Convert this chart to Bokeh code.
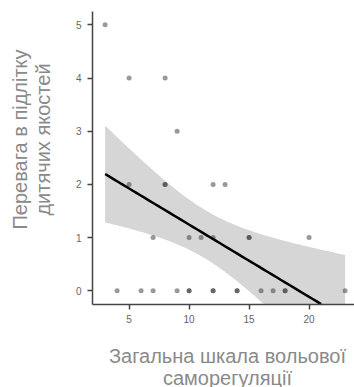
import numpy as np
from bokeh.plotting import figure
from bokeh.models import Range1d, Label, FixedTicker, ColumnDataSource
from bokeh.embed import file_html
from bokeh.resources import INLINE

# Data
self_regulation = [3, 5, 8, 9, 5, 8, 8, 12, 13, 7, 10, 11, 12, 15, 15, 20,
                   4, 6, 7, 9, 10, 10, 12, 12, 14, 14, 16, 17, 18, 18, 23]
child_traits = [5, 4, 4, 3, 2, 2, 2, 2, 2, 1, 1, 1, 1, 1, 1, 1,
                0, 0, 0, 0, 0, 0, 0, 0, 0, 0, 0, 0, 0, 0, 0]
x_ticks = [5, 10, 15, 20]
y_ticks = [0, 1, 2, 3, 4, 5]
x_title_lines = ["Загальна шкала вольової", "саморегуляції"]
y_title_lines = ["Перевага в підлітку", "дитячих якостей"]

FONT = "Liberation Sans"
W, H = 354, 387
# panel extent in data units
X0, X1 = 1.95, 23.78
Y0, Y1 = -0.25, 5.25
px_x = 12.0    # pixels per x unit
px_y = 53.2    # pixels per y unit
left_px, top_px = 92, 11

# Linear fit with 95% confidence band
x = np.array(self_regulation, dtype=float)
y = np.array(child_traits, dtype=float)
n = len(x)
mx, my = x.mean(), y.mean()
sxx = ((x - mx) ** 2).sum()
slope = ((x - mx) * (y - my)).sum() / sxx
intercept = my - slope * mx
resid = y - (intercept + slope * x)
s = np.sqrt((resid ** 2).sum() / (n - 2))
t975 = 2.045
grid = np.linspace(x.min(), x.max(), 200)
fit = intercept + slope * grid
se = s * np.sqrt(1.0 / n + (grid - mx) ** 2 / sxx)
lower = np.clip(fit - t975 * se, Y0, Y1)
upper = np.clip(fit + t975 * se, Y0, Y1)
# the panel clips the fitted line at its lower edge
x_cut = min(x.max(), (Y0 - intercept) / slope) if slope < 0 else x.max()
line_x = np.linspace(x.min(), x_cut, 50)
line_y = intercept + slope * line_x

xr = Range1d(X0 - left_px / px_x, X0 + (W - left_px) / px_x)
yr = Range1d(Y1 - (H - top_px) / px_y, Y1 + top_px / px_y)

p = figure(width=W, height=H, output_backend="svg", toolbar_location=None,
           x_range=xr, y_range=yr, min_border=0)
p.outline_line_color = None
p.grid.visible = False
p.background_fill_color = "white"
p.border_fill_color = "white"

p.varea(x=grid, y1=lower, y2=upper, fill_color="#d6d6d6", fill_alpha=1.0)
src = ColumnDataSource(dict(x=self_regulation, y=child_traits))
p.scatter("x", "y", source=src, size=5, fill_color="#333333", line_color=None,
          fill_alpha=0.5)
p.line(line_x, line_y, line_color="black", line_width=2.5)

p.xaxis.fixed_location = Y0
p.xaxis.bounds = (X0, X1)
p.yaxis.fixed_location = X0
p.yaxis.bounds = (Y0, Y1)

for ax in (p.xaxis[0], p.yaxis[0]):
    ax.axis_line_color = "#444444"
    ax.axis_line_width = 1.5
    ax.major_tick_line_color = "#444444"
    ax.major_tick_line_width = 1.5
    ax.major_tick_out = 5
    ax.major_tick_in = 0
    ax.minor_tick_line_color = None
    ax.major_label_text_font = FONT
    ax.major_label_text_font_size = "10px"
    ax.major_label_text_color = "#666666"
    ax.major_label_standoff = 6

p.xaxis.ticker = FixedTicker(ticks=x_ticks)
p.yaxis.ticker = FixedTicker(ticks=y_ticks)

title_style = dict(x_units="screen", y_units="screen", text_align="center",
                   text_baseline="middle", text_font=FONT,
                   text_font_size="20px", text_color="#8a8a8a")

for i, txt in enumerate(x_title_lines):
    p.add_layout(Label(x=227, y=H - 355 - 22 * i, text=txt, **title_style))

for i, txt in enumerate(y_title_lines):
    p.add_layout(Label(x=19 + 23 * i, y=H - 139, text=txt, angle=np.pi / 2,
                       **title_style))

open("out.html", "w").write(file_html(p, INLINE))
